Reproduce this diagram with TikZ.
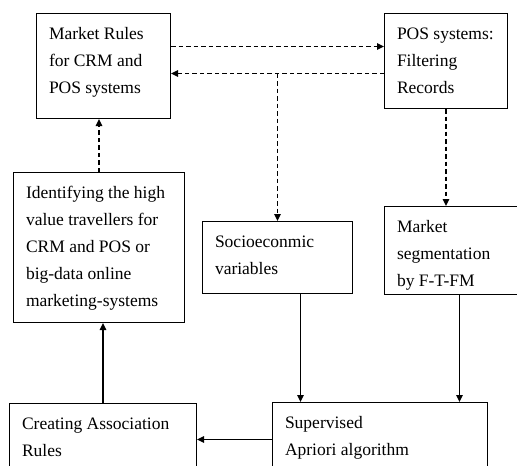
\documentclass[tikz,border=0pt]{standalone}
\usepackage{fontspec}
\setmainfont{Liberation Serif}
\usetikzlibrary{arrows.meta}
\def\boxtext(#1:#2)#3{\parbox[t][#1pt][t]{#2pt}{\raggedright #3}}

\tikzset{
	block/.style={draw, line width=1pt, anchor=north west, inner xsep=12.5pt, inner ysep=14pt, font=\fontsize{17.5}{27}\selectfont},
	flow/.style={line width=1.3pt, -{Triangle[length=7pt,width=6.5pt]}},
	dashflow/.style={flow, dash pattern=on 4.5pt off 3pt},
}

\begin{document}
\begin{tikzpicture}[x=1pt, y=-1pt]
			%%%%% START %%%%%
			\path[use as bounding box, clip] (0, 0) rectangle (517, 466);
			
			% top row
			\node[block] (rules) at (36, 13) {\boxtext(77:109){Market Rules\\for CRM and\\POS systems}};
			\node[block] (pos) at (384, 13) {\boxtext(67:98){POS systems:\\Filtering\\Records}};
			
			% middle row
			\node[block] (ident) at (13, 172) {\boxtext(122:146){Identifying the high\\value travellers for\\CRM and POS or\\big-data online\\marketing-systems}};
			\node[block] (socio) at (202, 221) {\boxtext(44:125){Socioeconmic\\variables}};
			\node[block] (segm) at (384, 206) {\boxtext(60:125){Market\\segmentation\\by F-T-FM}};
			
			% bottom row (cut off by the frame)
			\node[block] (assoc) at (9, 403) {\boxtext(46:162){Creating Association\\Rules}};
			\node[block] (superv) at (272, 402) {\boxtext(46:190){Supervised\\Apriori algorithm}};
			
			% dashed links
			\coordinate (fwd) at ([yshift=14.5pt]pos.west);
			\coordinate (back) at ([yshift=-12.5pt]pos.west);
			\draw[dashflow] (fwd -| rules.east) -- (fwd);
			\draw[dashflow] (back) -- (back -| rules.east);
			\draw[dashflow] (socio.north |- back) -- (socio.north);
			\draw[dashflow] (pos.south) -- (pos.south |- segm.north);
			\draw[dashflow] (ident.north) -- (ident.north |- rules.south);
			
			% solid links
			\coordinate (s1) at ([xshift=23pt]socio.south);
			\draw[flow] (s1) -- (s1 |- superv.north);
			\draw[flow] (segm.south) -- (segm.south |- superv.north);
			\draw[flow] (superv.west) -- (superv.west -| assoc.east);
			\draw[flow] (assoc.north) -- (assoc.north |- ident.south);
			
			%%%%% END %%%%%
\end{tikzpicture}
\end{document}
